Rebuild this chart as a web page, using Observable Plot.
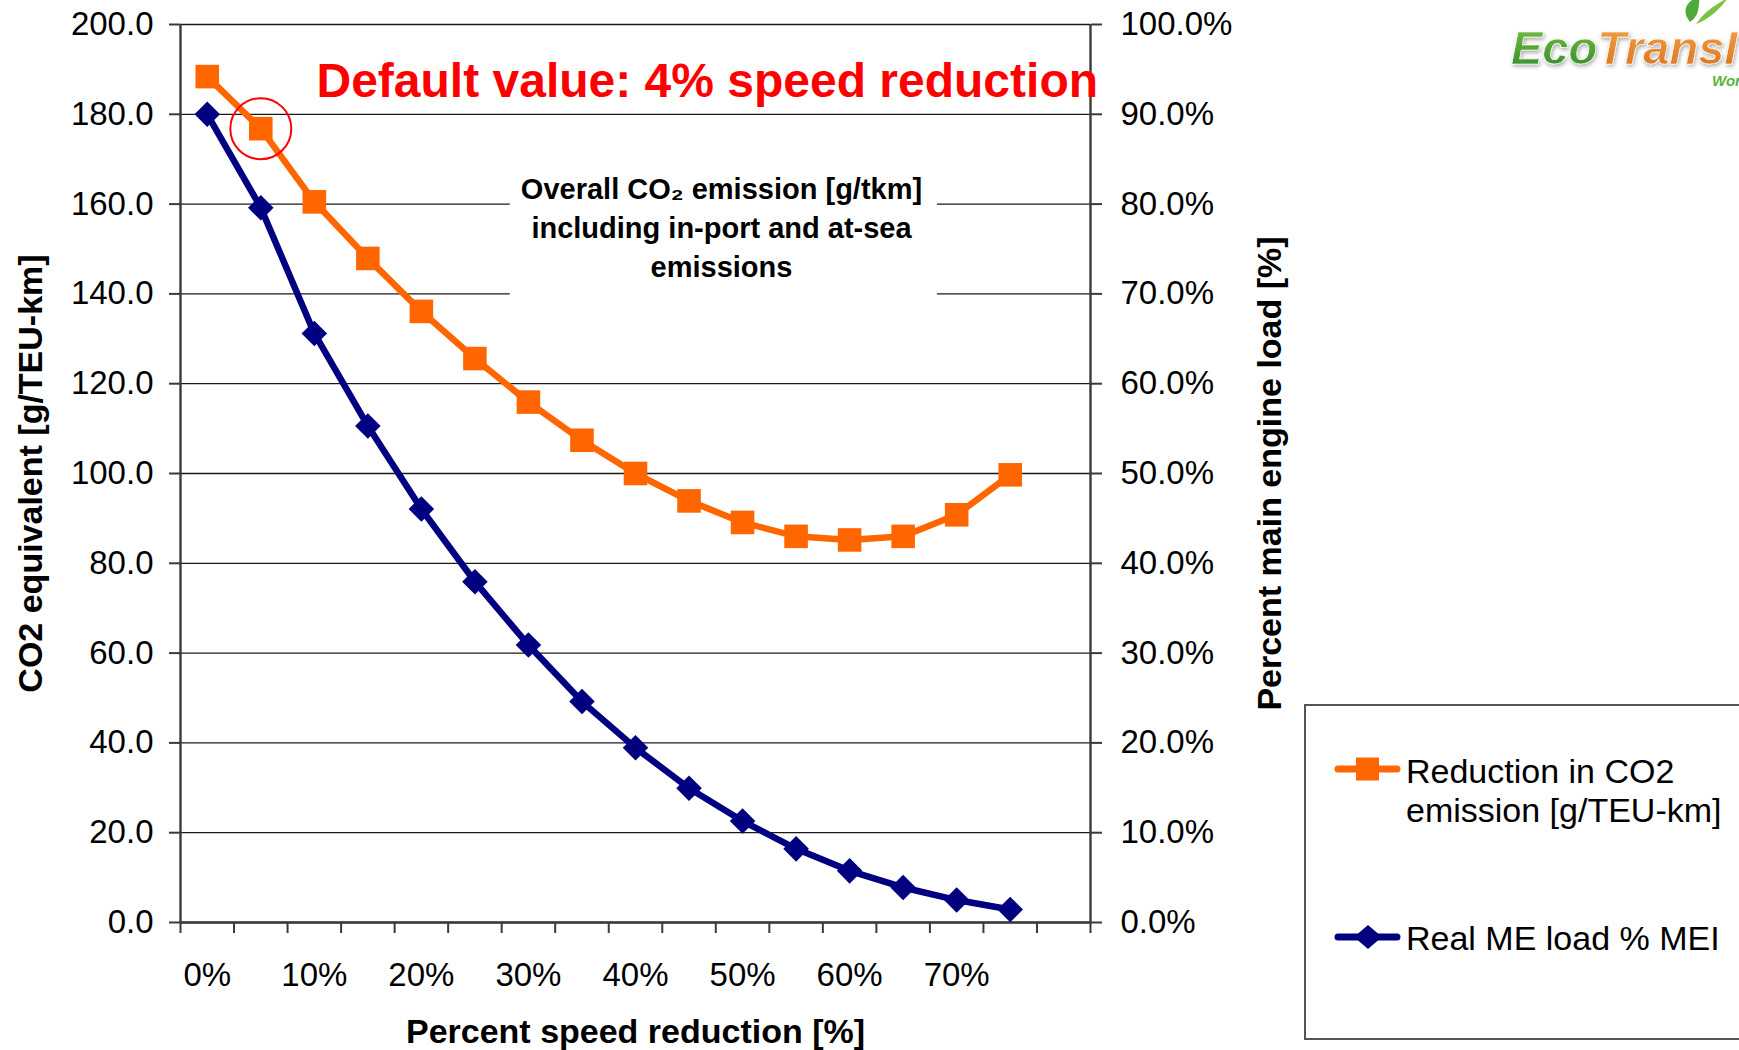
<!DOCTYPE html>
<html>
<head>
<meta charset="utf-8">
<script src="https://cdn.jsdelivr.net/npm/d3@7"></script>
<script src="https://cdn.jsdelivr.net/npm/@observablehq/plot@0.6"></script>
<style>
  html, body { margin: 0; padding: 0; background: #fff; overflow: hidden; }
  #wrap { position: relative; width: 1739px; height: 1050px; }
  #overlay { position: absolute; left: 0; top: 0; pointer-events: none; }
</style>
</head>
<body>
<div id="wrap"></div>
<script>
// ---- data ----
const speedReduction = [0, 5, 10, 15, 20, 25, 30, 35, 40, 45, 50, 55, 60, 65, 70, 75];
const co2Emission = [188.4, 176.8, 160.5, 147.9, 136.1, 125.6, 115.9, 107.4, 100.0, 93.9, 89.1, 86.0, 85.2, 86.0, 90.8, 99.7];
const engineLoad = [90.0, 79.6, 65.6, 55.3, 46.05, 37.95, 30.9, 24.6, 19.45, 14.95, 11.3, 8.2, 5.75, 3.9, 2.5, 1.45];
const xCategories = [0, 5, 10, 15, 20, 25, 30, 35, 40, 45, 50, 55, 60, 65, 70, 75, 80];
const xTickLabels = [0, 10, 20, 30, 40, 50, 60, 70];
const yTicks = [0, 20, 40, 60, 80, 100, 120, 140, 160, 180, 200];
const leftMax = 200, rightMax = 100;
const seriesNames = ["Reduction in CO2\nemission [g/TEU-km]", "Real ME load % MEI"];
const seriesColors = ["#FF6600", "#000080"];
const defaultSpeed = 5;
const titleText = "Default value: 4% speed reduction";
const noteText = "Overall CO\u2082 emission [g/tkm]\nincluding in-port and at-sea\nemissions";
const noteBox = [{x1: 28.3, x2: 68.2, y1: 138.6, y2: 172.0}];

// ---- derived tables ----
const rows = speedReduction.map((s, i) => ({speed: s, co2: co2Emission[i], load: engineLoad[i]}));
const step = xCategories[1] - xCategories[0];
const xDomain = [xCategories[0] - step / 2, xCategories[xCategories.length - 1] + step / 2];
const xBounds = xCategories.map(c => c - step / 2).concat([xDomain[1]]);
const ratio = leftMax / rightMax;
const defaultRow = rows.filter(r => r.speed === defaultSpeed);

const font = "'Liberation Sans', Arial, sans-serif";
const axisColor = "#3a3a3a";

const chart = Plot.plot({
  width: 1739,
  height: 1050,
  marginLeft: 180,
  marginRight: 649,
  marginTop: 24,
  marginBottom: 128,
  x: {domain: xDomain, axis: null},
  y: {domain: [0, leftMax], axis: null},
  style: {fontFamily: font, background: "#fff", color: "#000", overflow: "visible"},
  marks: [
    // gridlines
    Plot.ruleY(yTicks, {stroke: "#1a1a1a", strokeWidth: 1.3}),
    // annotation background interrupting the grid
    Plot.rect(noteBox, {x1: "x1", x2: "x2", y1: "y1", y2: "y2", fill: "#fff"}),
    // axis lines
    Plot.ruleX([xDomain[0], xDomain[1]], {stroke: axisColor, strokeWidth: 2.4}),
    Plot.ruleY([0], {stroke: axisColor, strokeWidth: 2.4}),
    // tick marks
    Plot.axisY(yTicks, {anchor: "left", tickSize: 11, tickFormat: () => "", stroke: axisColor, strokeWidth: 2, label: null}),
    Plot.axisY(yTicks, {anchor: "right", tickSize: 11, tickFormat: () => "", stroke: axisColor, strokeWidth: 2, label: null}),
    Plot.axisX(xBounds, {anchor: "bottom", tickSize: 11, tickFormat: () => "", stroke: axisColor, strokeWidth: 2, label: null}),
    // tick labels
    Plot.text(yTicks, {y: d => d, text: d => d.toFixed(1), frameAnchor: "left", textAnchor: "end", dx: -27, fontSize: 33, fill: "#000"}),
    Plot.text(yTicks, {y: d => d, text: d => (d / ratio).toFixed(1) + "%", frameAnchor: "right", textAnchor: "start", dx: 30, fontSize: 33, fill: "#000"}),
    Plot.text(xTickLabels, {x: d => d, text: d => d + "%", frameAnchor: "bottom", lineAnchor: "middle", dy: 53, fontSize: 33, fill: "#000"}),
    // axis titles
    Plot.text(["CO2 equivalent [g/TEU-km]"], {text: d => d, frameAnchor: "left", textAnchor: "middle", lineAnchor: "middle", rotate: -90, dx: -149, fontSize: 34, fontWeight: "bold", fill: "#000"}),
    Plot.text(["Percent main engine load [%]"], {text: d => d, frameAnchor: "right", textAnchor: "middle", lineAnchor: "middle", rotate: -90, dx: 180, fontSize: 34, fontWeight: "bold", fill: "#000"}),
    Plot.text(["Percent speed reduction [%]"], {text: d => d, frameAnchor: "bottom", lineAnchor: "middle", dy: 110, fontSize: 34, fontWeight: "bold", fill: "#000"}),
    // annotation
    Plot.text([noteText], {text: d => d, frameAnchor: "top-left", textAnchor: "middle", lineAnchor: "middle", dx: 541, dy: 201, lineHeight: 1.35, fontSize: 29, fontWeight: "bold", fill: "#000"}),
    // series
    Plot.line(rows, {x: "speed", y: d => d.load * ratio, stroke: seriesColors[1], strokeWidth: 6.5, strokeLinejoin: "round"}),
    Plot.dot(rows, {x: "speed", y: d => d.load * ratio, symbol: "diamond2", r: 11.5, fill: seriesColors[1], stroke: "none"}),
    Plot.line(rows, {x: "speed", y: "co2", stroke: seriesColors[0], strokeWidth: 6.5, strokeLinejoin: "round"}),
    Plot.dot(rows, {x: "speed", y: "co2", symbol: "square", r: 13.3, fill: seriesColors[0], stroke: "none"}),
    // default value highlight
    Plot.dot(defaultRow, {x: "speed", y: "co2", r: 30.5, stroke: "#FF0000", strokeWidth: 2, fill: "none"}),
    Plot.text([titleText], {text: d => d, frameAnchor: "top-left", textAnchor: "start", lineAnchor: "middle", dx: 136, dy: 57, fontSize: 48, fontWeight: "bold", fill: "#FF0000"})
  ]
});
document.getElementById("wrap").appendChild(chart);

// ---- legend + logo overlay ----
const ov = d3.select("#wrap").append("svg").attr("id", "overlay")
  .attr("width", 1739).attr("height", 1050)
  .style("font-family", font);

ov.append("rect").attr("x", 1305).attr("y", 705).attr("width", 460).attr("height", 334)
  .attr("fill", "#fff").attr("stroke", "#555").attr("stroke-width", 2);

const legendY = [769, 937];
seriesNames.forEach((name, i) => {
  const g = ov.append("g");
  const y = legendY[i];
  g.append("line").attr("x1", 1338).attr("x2", 1397).attr("y1", y).attr("y2", y)
    .attr("stroke", seriesColors[i]).attr("stroke-width", 7).attr("stroke-linecap", "round");
  if (i === 0) {
    g.append("rect").attr("x", 1356).attr("y", y - 11.5).attr("width", 23).attr("height", 23).attr("fill", seriesColors[i]);
  } else {
    g.append("path").attr("d", `M1368,${y - 12} L1382,${y} L1368,${y + 12} L1354,${y} Z`).attr("fill", seriesColors[i]);
  }
  const lines = name.split("\n");
  const t = g.append("text").attr("x", 1406).attr("font-size", 34).attr("fill", "#000");
  const base = lines.length > 1 ? y + 14 : y + 13;
  lines.forEach((ln, j) => {
    t.append("tspan").attr("x", 1406).attr("y", base + j * 39).text(ln);
  });
});

// logo
const defs = ov.append("defs");
const gg = defs.append("linearGradient").attr("id", "gEco").attr("x1", 0).attr("y1", 0).attr("x2", 0).attr("y2", 1);
gg.append("stop").attr("offset", "0%").attr("stop-color", "#7cc242");
gg.append("stop").attr("offset", "100%").attr("stop-color", "#2f8a2a");
const go = defs.append("linearGradient").attr("id", "gTr").attr("x1", 0).attr("y1", 0).attr("x2", 0).attr("y2", 1);
go.append("stop").attr("offset", "0%").attr("stop-color", "#f3a64a");
go.append("stop").attr("offset", "100%").attr("stop-color", "#d9701c");
const flt = defs.append("filter").attr("id", "glow").attr("x", "-10%").attr("y", "-20%").attr("width", "130%").attr("height", "150%");
flt.append("feGaussianBlur").attr("in", "SourceAlpha").attr("stdDeviation", 2).attr("result", "b");
flt.append("feOffset").attr("in", "b").attr("dx", 1).attr("dy", 2).attr("result", "o");
flt.append("feComponentTransfer").attr("in", "o").attr("result", "s").append("feFuncA").attr("type", "linear").attr("slope", 0.35);
const fm = flt.append("feMerge");
fm.append("feMergeNode").attr("in", "s");
fm.append("feMergeNode").attr("in", "SourceGraphic");

ov.append("path").attr("d", "M1690,22 C1680,10 1688,0 1700,-4 C1698,8 1700,15 1690,22 Z").attr("fill", "#4fa83a");
ov.append("path").attr("d", "M1696,24 C1712,18 1722,6 1728,-2 C1716,4 1704,12 1696,24 Z").attr("fill", "#7cc242");
const logo = ov.append("text").attr("x", 1511).attr("y", 64).attr("font-size", 47)
  .attr("font-weight", "bold").attr("font-style", "italic").attr("filter", "url(#glow)")
  .attr("stroke", "#ffffff").attr("stroke-width", 0.6);
logo.append("tspan").attr("fill", "url(#gEco)").text("Eco");
logo.append("tspan").attr("fill", "url(#gTr)").text("TransIT");
ov.append("text").attr("x", 1712).attr("y", 86).attr("font-size", 15).attr("font-weight", "bold")
  .attr("font-style", "italic").attr("fill", "#5db33e").text("World");
</script>
</body>
</html>
